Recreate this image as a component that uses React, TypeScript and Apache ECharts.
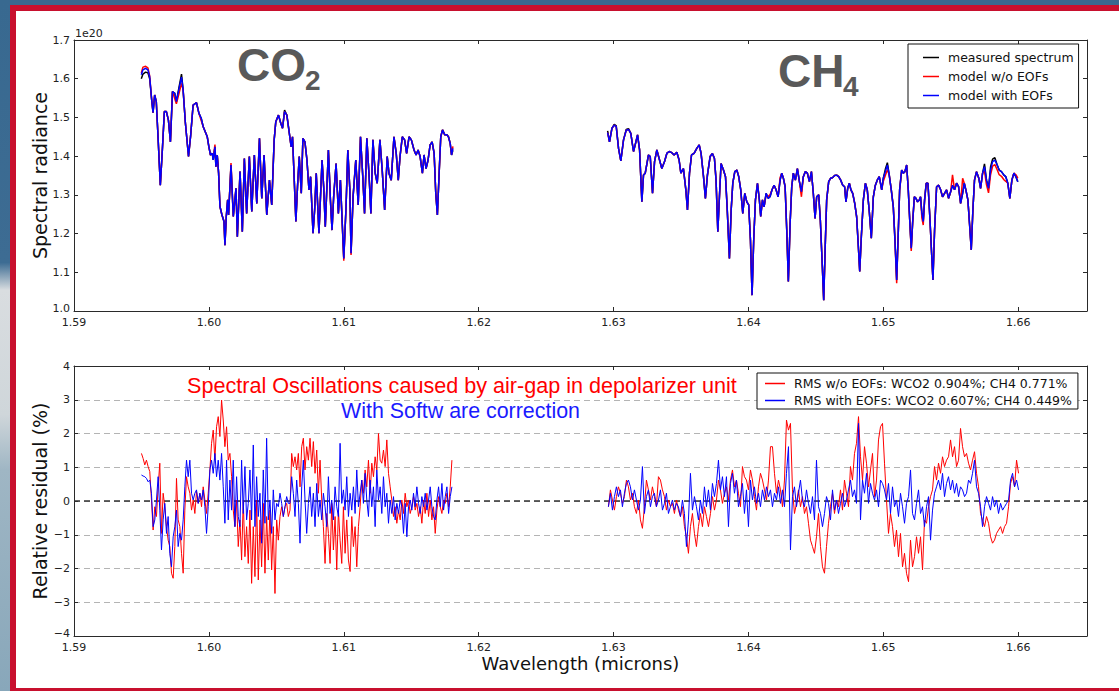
import React, { useEffect, useRef } from "react";
import * as echarts from "echarts";

// ---------- Top panel: spectral radiance (units of 1e20) ----------
const co2Wl = [
  1.59499, 1.59511, 1.59531, 1.59548, 1.59561, 1.59576, 1.59586, 1.59598, 1.5961, 1.59623,
  1.5964, 1.59655, 1.5967, 1.59685, 1.597, 1.59715, 1.5973, 1.59747, 1.59759, 1.59777,
  1.59797, 1.59809, 1.59826, 1.59849, 1.59864, 1.59883, 1.59908, 1.59926, 1.59943, 1.59958,
  1.59973, 1.59988, 1.6, 1.60012, 1.60025, 1.60032, 1.60045, 1.60052, 1.60062, 1.60072,
  1.60082, 1.60097, 1.60112, 1.60119, 1.60129, 1.60139, 1.60146, 1.60164, 1.60181, 1.60201,
  1.60211, 1.60231, 1.60248, 1.60263, 1.6028, 1.603, 1.60318, 1.60337, 1.60355, 1.60375,
  1.60392, 1.60409, 1.60429, 1.60449, 1.60466, 1.60484, 1.60496, 1.60516, 1.60533, 1.60546,
  1.60561, 1.60578, 1.60593, 1.6061, 1.6062, 1.6063, 1.60645, 1.60657, 1.6067, 1.60685,
  1.60697, 1.60712, 1.60727, 1.60742, 1.60754, 1.60772, 1.60784, 1.60796, 1.60816, 1.60839,
  1.60851, 1.60863, 1.60886, 1.60901, 1.60913, 1.60925, 1.60943, 1.6096, 1.60975, 1.61,
  1.61017, 1.6103, 1.61045, 1.61054, 1.61069, 1.61089, 1.61107, 1.61124, 1.61141, 1.61154,
  1.61171, 1.61188, 1.61201, 1.61216, 1.61233, 1.61248, 1.61268, 1.61285, 1.61303, 1.61322,
  1.61335, 1.61352, 1.61372, 1.61389, 1.61404, 1.61417, 1.61434, 1.61451, 1.61466, 1.61484,
  1.61501, 1.61521, 1.61536, 1.61551, 1.61566, 1.61583, 1.61595, 1.6161, 1.61625, 1.6164,
  1.61655, 1.6167, 1.61682, 1.61694, 1.61707, 1.61719, 1.61732, 1.61749, 1.61764, 1.61776,
  1.61789, 1.61799, 1.61809,
];
const co2WithEof = [
  1.610, 1.623, 1.627, 1.623, 1.605, 1.545, 1.512, 1.558, 1.541, 1.450,
  1.325, 1.416, 1.515, 1.515, 1.493, 1.437, 1.567, 1.562, 1.541, 1.571,
  1.604, 1.571, 1.485, 1.399, 1.450, 1.532, 1.538, 1.511, 1.498, 1.476,
  1.463, 1.450, 1.424, 1.403, 1.407, 1.390, 1.424, 1.373, 1.403, 1.356,
  1.270, 1.248, 1.231, 1.170, 1.244, 1.287, 1.248, 1.377, 1.244, 1.317,
  1.192, 1.360, 1.205, 1.394, 1.252, 1.399, 1.257, 1.403, 1.278, 1.446,
  1.291, 1.403, 1.248, 1.338, 1.274, 1.442, 1.489, 1.506, 1.485, 1.472,
  1.515, 1.506, 1.468, 1.424, 1.450, 1.364, 1.231, 1.321, 1.399, 1.304,
  1.446, 1.437, 1.390, 1.313, 1.347, 1.201, 1.261, 1.356, 1.201, 1.390,
  1.321, 1.218, 1.416, 1.287, 1.209, 1.295, 1.381, 1.252, 1.338, 1.136,
  1.270, 1.416, 1.313, 1.149, 1.295, 1.390, 1.274, 1.450, 1.347, 1.252,
  1.446, 1.347, 1.252, 1.442, 1.356, 1.330, 1.442, 1.364, 1.261, 1.399,
  1.356, 1.338, 1.450, 1.407, 1.338, 1.399, 1.450, 1.442, 1.407, 1.450,
  1.442, 1.416, 1.403, 1.416, 1.399, 1.356, 1.403, 1.368, 1.390, 1.429,
  1.437, 1.407, 1.304, 1.248, 1.356, 1.450, 1.468, 1.455, 1.455, 1.450,
  1.433, 1.403, 1.420,
];
const co2NoEof = [
  1.615, 1.630, 1.632, 1.628, 1.607, 1.545, 1.512, 1.558, 1.541, 1.450,
  1.325, 1.416, 1.515, 1.515, 1.493, 1.437, 1.567, 1.548, 1.535, 1.560,
  1.588, 1.571, 1.485, 1.399, 1.450, 1.532, 1.538, 1.511, 1.492, 1.476,
  1.463, 1.450, 1.424, 1.403, 1.407, 1.395, 1.430, 1.373, 1.403, 1.356,
  1.270, 1.248, 1.231, 1.170, 1.244, 1.287, 1.248, 1.382, 1.244, 1.317,
  1.192, 1.360, 1.205, 1.394, 1.252, 1.399, 1.257, 1.403, 1.278, 1.446,
  1.291, 1.403, 1.248, 1.338, 1.274, 1.442, 1.489, 1.506, 1.485, 1.472,
  1.515, 1.506, 1.468, 1.424, 1.450, 1.364, 1.231, 1.321, 1.399, 1.304,
  1.446, 1.437, 1.390, 1.313, 1.347, 1.201, 1.261, 1.356, 1.201, 1.390,
  1.321, 1.218, 1.416, 1.287, 1.209, 1.295, 1.381, 1.252, 1.338, 1.130,
  1.270, 1.416, 1.313, 1.145, 1.295, 1.390, 1.274, 1.450, 1.347, 1.252,
  1.446, 1.347, 1.252, 1.442, 1.356, 1.330, 1.442, 1.364, 1.261, 1.399,
  1.356, 1.338, 1.450, 1.407, 1.338, 1.399, 1.450, 1.442, 1.407, 1.450,
  1.442, 1.416, 1.403, 1.416, 1.399, 1.356, 1.403, 1.368, 1.390, 1.429,
  1.437, 1.407, 1.304, 1.248, 1.356, 1.450, 1.468, 1.455, 1.455, 1.450,
  1.433, 1.403, 1.425,
];
const co2Measured = [
  1.600, 1.612, 1.617, 1.615, 1.600, 1.545, 1.512, 1.558, 1.541, 1.450,
  1.325, 1.416, 1.515, 1.515, 1.493, 1.437, 1.567, 1.562, 1.541, 1.575,
  1.612, 1.571, 1.485, 1.399, 1.450, 1.532, 1.538, 1.511, 1.498, 1.476,
  1.463, 1.450, 1.424, 1.403, 1.407, 1.390, 1.424, 1.373, 1.403, 1.356,
  1.270, 1.248, 1.231, 1.170, 1.244, 1.287, 1.248, 1.377, 1.244, 1.317,
  1.192, 1.360, 1.205, 1.394, 1.252, 1.399, 1.257, 1.403, 1.278, 1.446,
  1.291, 1.403, 1.248, 1.338, 1.274, 1.442, 1.489, 1.506, 1.485, 1.472,
  1.519, 1.506, 1.468, 1.424, 1.450, 1.364, 1.231, 1.321, 1.399, 1.304,
  1.446, 1.437, 1.390, 1.313, 1.347, 1.201, 1.261, 1.356, 1.201, 1.390,
  1.321, 1.218, 1.416, 1.287, 1.209, 1.295, 1.381, 1.252, 1.338, 1.136,
  1.270, 1.416, 1.313, 1.149, 1.295, 1.390, 1.274, 1.450, 1.347, 1.252,
  1.446, 1.347, 1.252, 1.442, 1.356, 1.330, 1.442, 1.364, 1.261, 1.399,
  1.356, 1.338, 1.450, 1.407, 1.338, 1.399, 1.450, 1.442, 1.407, 1.450,
  1.442, 1.416, 1.403, 1.416, 1.399, 1.356, 1.403, 1.368, 1.390, 1.429,
  1.437, 1.407, 1.304, 1.248, 1.356, 1.450, 1.468, 1.455, 1.455, 1.450,
  1.433, 1.403, 1.415,
];

const ch4Wl = [
  1.62956, 1.6297, 1.62988, 1.63005, 1.6302, 1.63037, 1.63054, 1.63074, 1.63094, 1.63111,
  1.63128, 1.63148, 1.63163, 1.63178, 1.63193, 1.6321, 1.63222, 1.63235, 1.63259, 1.63272,
  1.63289, 1.63304, 1.63321, 1.63341, 1.63358, 1.63378, 1.63395, 1.63412, 1.63432, 1.63449,
  1.63469, 1.63486, 1.63499, 1.63518, 1.63536, 1.63548, 1.63563, 1.63578, 1.63597, 1.63617,
  1.63635, 1.63649, 1.63667, 1.63681, 1.63696, 1.63716, 1.63733, 1.63748, 1.6376, 1.63773,
  1.63785, 1.63797, 1.63815, 1.6383, 1.63842, 1.63859, 1.63872, 1.63884, 1.63899, 1.63914,
  1.63928, 1.63943, 1.63958, 1.63973, 1.63988, 1.64002, 1.64015, 1.64027, 1.64039, 1.64052,
  1.64067, 1.64081, 1.64091, 1.64104, 1.64116, 1.64131, 1.64146, 1.6416, 1.64175, 1.6419,
  1.64205, 1.6422, 1.64235, 1.64247, 1.64259, 1.64272, 1.64284, 1.64296, 1.64309, 1.64321,
  1.64333, 1.64348, 1.64363, 1.64378, 1.64393, 1.64407, 1.64422, 1.64437, 1.64452, 1.64467,
  1.64481, 1.64494, 1.64506, 1.64521, 1.64533, 1.64548, 1.64558, 1.6457, 1.6458, 1.64595,
  1.6461, 1.64625, 1.64639, 1.64654, 1.64669, 1.64684, 1.64699, 1.64713, 1.64723, 1.64736,
  1.64748, 1.6476, 1.64773, 1.64788, 1.64802, 1.64815, 1.64825, 1.64837, 1.64852, 1.64867,
  1.64881, 1.64896, 1.64911, 1.64926, 1.64941, 1.64955, 1.6497, 1.64988, 1.65, 1.65015,
  1.6503, 1.65044, 1.65059, 1.65074, 1.65086, 1.65099, 1.65109, 1.65121, 1.65136, 1.65148,
  1.6516, 1.65173, 1.65185, 1.65197, 1.65207, 1.65217, 1.6523, 1.65242, 1.65254, 1.65267,
  1.65276, 1.65286, 1.65296, 1.65306, 1.65318, 1.65331, 1.65346, 1.65358, 1.65368, 1.6538,
  1.65395, 1.6541, 1.65425, 1.65439, 1.65454, 1.65469, 1.65484, 1.65499, 1.65513, 1.65528,
  1.65543, 1.65558, 1.65573, 1.65588, 1.656, 1.65612, 1.65627, 1.65639, 1.65652, 1.65664,
  1.65676, 1.65691, 1.65708, 1.65721, 1.65736, 1.6575, 1.65765, 1.6578, 1.65795, 1.6581,
  1.65827, 1.65844, 1.65859, 1.65876, 1.65894, 1.65908, 1.65923, 1.65938, 1.65953, 1.65968,
  1.65983, 1.65997,
];
const ch4WithEof = [
  1.461, 1.437, 1.472, 1.480, 1.476, 1.420, 1.388, 1.442, 1.467, 1.469,
  1.459, 1.412, 1.433, 1.455, 1.416, 1.282, 1.351, 1.356, 1.403, 1.399,
  1.304, 1.386, 1.416, 1.390, 1.368, 1.386, 1.407, 1.412, 1.409, 1.403,
  1.410, 1.390, 1.356, 1.368, 1.313, 1.261, 1.356, 1.403, 1.407, 1.420,
  1.429, 1.407, 1.347, 1.291, 1.351, 1.399, 1.407, 1.394, 1.338, 1.205,
  1.295, 1.381, 1.364, 1.347, 1.269, 1.136, 1.261, 1.330, 1.360, 1.364,
  1.347, 1.313, 1.252, 1.304, 1.282, 1.274, 1.183, 1.041, 1.183, 1.287,
  1.330, 1.287, 1.244, 1.287, 1.269, 1.304, 1.291, 1.295, 1.313, 1.325,
  1.313, 1.295, 1.338, 1.356, 1.343, 1.321, 1.209, 1.076, 1.226, 1.321,
  1.356, 1.338, 1.368, 1.334, 1.308, 1.347, 1.360, 1.356, 1.334, 1.360,
  1.304, 1.239, 1.295, 1.300, 1.235, 1.114, 1.028, 1.175, 1.287, 1.334,
  1.343, 1.345, 1.350, 1.351, 1.347, 1.338, 1.325, 1.321, 1.282, 1.317,
  1.330, 1.313, 1.304, 1.278, 1.244, 1.166, 1.102, 1.192, 1.287, 1.330,
  1.313, 1.257, 1.188, 1.295, 1.325, 1.338, 1.347, 1.313, 1.343, 1.360,
  1.377, 1.351, 1.313, 1.269, 1.183, 1.080, 1.183, 1.313, 1.364, 1.356,
  1.360, 1.377, 1.313, 1.226, 1.162, 1.226, 1.295, 1.291, 1.282, 1.287,
  1.295, 1.252, 1.231, 1.287, 1.330, 1.330, 1.235, 1.149, 1.080, 1.209,
  1.321, 1.325, 1.313, 1.295, 1.304, 1.313, 1.291, 1.308, 1.325, 1.313,
  1.330, 1.321, 1.278, 1.304, 1.330, 1.313, 1.287, 1.226, 1.158, 1.261,
  1.338, 1.360, 1.343, 1.317, 1.356, 1.373, 1.338, 1.317, 1.364, 1.386,
  1.390, 1.377, 1.364, 1.360, 1.351, 1.347, 1.330, 1.291, 1.338, 1.356,
  1.347, 1.334,
];
const ch4NoEof = [
  1.461, 1.437, 1.472, 1.480, 1.476, 1.420, 1.388, 1.442, 1.467, 1.469,
  1.459, 1.412, 1.433, 1.455, 1.416, 1.282, 1.351, 1.356, 1.403, 1.399,
  1.304, 1.386, 1.416, 1.390, 1.368, 1.386, 1.407, 1.412, 1.409, 1.403,
  1.410, 1.390, 1.356, 1.368, 1.313, 1.261, 1.356, 1.403, 1.407, 1.420,
  1.429, 1.407, 1.347, 1.291, 1.351, 1.399, 1.407, 1.394, 1.338, 1.205,
  1.295, 1.381, 1.364, 1.347, 1.269, 1.136, 1.261, 1.330, 1.360, 1.364,
  1.347, 1.313, 1.252, 1.304, 1.282, 1.274, 1.183, 1.041, 1.183, 1.287,
  1.330, 1.287, 1.244, 1.287, 1.269, 1.300, 1.296, 1.300, 1.313, 1.325,
  1.313, 1.295, 1.345, 1.356, 1.343, 1.321, 1.209, 1.076, 1.226, 1.321,
  1.356, 1.338, 1.368, 1.334, 1.295, 1.347, 1.360, 1.356, 1.334, 1.360,
  1.304, 1.239, 1.295, 1.300, 1.235, 1.114, 1.028, 1.175, 1.287, 1.334,
  1.343, 1.345, 1.350, 1.351, 1.347, 1.338, 1.325, 1.321, 1.282, 1.317,
  1.330, 1.313, 1.304, 1.278, 1.244, 1.166, 1.102, 1.192, 1.287, 1.330,
  1.313, 1.257, 1.188, 1.295, 1.325, 1.338, 1.347, 1.313, 1.335, 1.350,
  1.365, 1.351, 1.313, 1.269, 1.183, 1.072, 1.183, 1.313, 1.364, 1.356,
  1.360, 1.377, 1.313, 1.226, 1.155, 1.226, 1.295, 1.291, 1.282, 1.287,
  1.295, 1.240, 1.222, 1.287, 1.330, 1.330, 1.235, 1.149, 1.080, 1.209,
  1.321, 1.325, 1.313, 1.295, 1.304, 1.313, 1.291, 1.308, 1.352, 1.313,
  1.330, 1.321, 1.278, 1.343, 1.330, 1.313, 1.287, 1.226, 1.158, 1.261,
  1.338, 1.360, 1.343, 1.317, 1.356, 1.361, 1.326, 1.305, 1.352, 1.374,
  1.378, 1.365, 1.352, 1.348, 1.339, 1.335, 1.330, 1.291, 1.338, 1.356,
  1.352, 1.343,
];
const ch4Measured = [
  1.465, 1.437, 1.472, 1.482, 1.478, 1.420, 1.388, 1.442, 1.469, 1.471,
  1.459, 1.412, 1.433, 1.455, 1.416, 1.282, 1.351, 1.356, 1.403, 1.399,
  1.304, 1.386, 1.416, 1.390, 1.368, 1.386, 1.407, 1.412, 1.409, 1.403,
  1.410, 1.390, 1.356, 1.368, 1.313, 1.261, 1.356, 1.403, 1.407, 1.420,
  1.429, 1.407, 1.347, 1.291, 1.351, 1.399, 1.407, 1.394, 1.338, 1.205,
  1.295, 1.381, 1.364, 1.347, 1.269, 1.136, 1.261, 1.330, 1.360, 1.364,
  1.347, 1.313, 1.252, 1.304, 1.282, 1.274, 1.183, 1.041, 1.183, 1.287,
  1.330, 1.287, 1.244, 1.287, 1.269, 1.304, 1.291, 1.295, 1.313, 1.325,
  1.313, 1.295, 1.338, 1.356, 1.343, 1.321, 1.209, 1.076, 1.226, 1.321,
  1.356, 1.338, 1.368, 1.334, 1.308, 1.347, 1.360, 1.356, 1.334, 1.360,
  1.304, 1.239, 1.295, 1.300, 1.235, 1.114, 1.028, 1.175, 1.287, 1.334,
  1.343, 1.345, 1.350, 1.351, 1.347, 1.338, 1.325, 1.321, 1.282, 1.317,
  1.330, 1.313, 1.304, 1.278, 1.244, 1.166, 1.102, 1.192, 1.287, 1.330,
  1.313, 1.257, 1.188, 1.295, 1.325, 1.338, 1.347, 1.313, 1.343, 1.366,
  1.383, 1.351, 1.313, 1.269, 1.190, 1.080, 1.183, 1.313, 1.364, 1.356,
  1.360, 1.377, 1.313, 1.226, 1.162, 1.226, 1.295, 1.291, 1.282, 1.287,
  1.295, 1.252, 1.231, 1.287, 1.330, 1.330, 1.235, 1.149, 1.080, 1.209,
  1.321, 1.325, 1.313, 1.295, 1.304, 1.313, 1.291, 1.308, 1.325, 1.313,
  1.330, 1.321, 1.278, 1.304, 1.330, 1.313, 1.287, 1.226, 1.158, 1.261,
  1.338, 1.360, 1.343, 1.317, 1.356, 1.380, 1.338, 1.317, 1.372, 1.392,
  1.396, 1.377, 1.364, 1.360, 1.351, 1.347, 1.330, 1.291, 1.338, 1.356,
  1.347, 1.334,
];

// ---------- Bottom panel: relative residual (%), evenly spaced spectral channels ----------
const co2ResidStart = 1.595;
const co2ResidStep = 0.00012375;
const co2ResidNoEof = [
  1.41, 1.26, 1.07, 1.21, 1.02, 0.87, 0.03, -0.86, -0.17, -0.46,
  0.42, 1.12, -0.96, 0.23, -0.17, -0.76, -1.16, -1.35, -2.14, -2.29,
  -1.35, 0.67, -0.56, -0.76, -1.55, -2.14, -0.27, 0.72, 0.42, 0.23,
  -0.27, 0.03, -0.37, 0.28, -0.07, 0.23, -0.17, 0.42, 0.03, -0.37,
  0.23, 0.92, 1.71, 2.1, 1.21, 2.2, 2.5, 1.91, 2.99, 2.4,
  1.61, 2.2, 1.21, 1.41, 0.72, -0.27, -0.76, 0.03, -1.35, -0.56,
  -1.75, 0.03, -1.65, -0.76, -1.85, -0.27, -2.44, -0.76, -2.24, 0.03,
  -2.34, -0.56, -1.95, -0.07, -2.14, -0.46, -1.75, -0.27, -2.04, -0.76,
  -2.74, -0.56, -1.16, -0.46, -0.17, -0.46, -0.17, -0.07, -0.46, -0.27,
  1.41, 1.02, 1.31, 0.92, 1.41, 0.42, 1.61, 1.86, 0.92, 1.61,
  1.21, 1.86, 1.02, 1.76, 0.82, 1.51, 0.23, 1.21, 0.03, -0.76,
  -1.85, -0.37, -0.96, -1.85, -0.07, -1.45, -0.46, -2.04, -0.27, -1.16,
  -1.85, -0.17, -1.55, -0.56, -1.75, -2.09, -0.46, -1.35, -0.76, -1.95,
  -0.76, -0.17, 0.62, 0.23, 0.92, 0.42, 1.21, 0.23, 1.12, 0.72,
  1.31, 0.92, 2.0, 1.21, 1.12, 1.51, 1.02, 1.81, 0.82, 0.42,
  0.03, -0.46, -0.17, -0.66, -0.27, -0.56, 0.03, -0.37, 0.23, -0.17,
  0.03, -0.37, -0.17, 0.13, -0.27, -0.07, -0.46, -0.17, -0.66, 0.03,
  -0.37, 0.23, -0.46, 0.03, -0.56, -0.17, -0.96, -0.27, 0.13, -0.17,
  -0.37, 0.03, -0.07, 0.23, -0.17, 0.42, 1.21,
];
const co2ResidWithEof = [
  0.77, 0.74, 0.72, 0.67, 0.57, 0.62, 0.23, -0.76, -0.56, 0.03,
  0.72, -0.27, -1.45, -0.56, -0.07, -0.96, -0.46, -1.55, -1.95, -1.06,
  -0.76, -0.27, -1.35, -0.96, -1.16, -0.56, 0.42, 1.21, 0.72, 1.21,
  0.23, 0.03, 0.23, 0.33, -0.07, 0.23, 0.03, 0.33, -0.17, -0.96,
  -0.17, 0.92, 1.21, 0.82, 1.41, 0.72, 1.21, 0.62, 1.41, 0.42,
  -0.66, 1.21, -0.56, 0.62, -0.27, 1.21, -0.76, 0.72, -0.46, -0.76,
  1.21, -0.37, 1.02, -0.56, -0.07, 0.92, -0.56, 1.66, -0.76, 0.72,
  -0.46, 0.23, -1.25, 0.92, -0.66, 1.86, -0.56, 0.03, -0.96, 0.33,
  -0.56, -0.07, -0.17, 0.23, -0.07, -0.46, -0.17, 0.13, -0.07, -0.07,
  0.72, 0.23, -0.46, 0.62, -0.07, -1.25, 0.42, 1.21, 0.03, -0.96,
  -0.07, 0.42, -0.46, 0.23, -0.76, 0.52, -0.46, 0.03, -0.56, 0.23,
  -0.17, -0.76, 0.72, -0.37, 0.03, -0.56, 0.42, -0.17, -0.46, 1.71,
  -0.07, 0.33, -0.27, 0.72, -0.46, 0.23, -0.27, 0.42, -0.37, 0.92,
  -0.17, 0.23, 0.62, -0.07, 0.82, 0.03, -0.46, 0.62, -0.17, 0.42,
  -0.76, 0.92, 0.03, 0.42, -0.37, 0.72, -0.17, 0.23, -0.66, 0.03,
  -0.37, 0.13, -0.56, -0.07, -0.37, 0.03, -0.17, -0.96, -0.07, -1.06,
  -0.17, 0.03, -0.27, 0.23, -0.17, 0.42, -0.07, -0.37, 0.13, -0.17,
  0.23, -0.27, 0.03, 0.42, -0.17, -0.46, -0.56, 0.03, 0.42, -0.17,
  0.52, -0.27, 0.13, 0.42, -0.37, 0.13, 0.42,
];
const ch4ResidStart = 1.62962;
const ch4ResidStep = 0.00014832;
const ch4ResidNoEof = [
  -0.17, 0.33, 0.03, -0.27, 0.13, 0.42, 0.23, -0.07, 0.13, 0.62,
  0.42, 0.03, 0.23, -0.17, -0.37, 0.03, -0.56, -0.81, -0.17, 0.62,
  0.33, 0.03, 0.42, 0.13, -0.17, 0.72, 0.62, 0.33, 0.13, -0.27,
  0.03, -0.17, -0.07, -0.37, 0.03, -0.27, -0.46, -0.17, -0.76, -1.06,
  -1.55, -0.76, -0.37, -0.96, -1.35, -0.76, -0.37, -0.76, -0.17, -0.46,
  -0.76, -0.37, 0.13, -0.27, 0.03, 0.62, 0.33, -0.07, 0.23, 0.42,
  0.03, 0.62, 0.92, 0.42, 0.62, 0.23, -0.17, 1.02, 0.72, 0.62,
  0.33, 0.92, 0.62, 0.13, -0.27, 0.42, 0.82, 0.62, 0.33, 0.03,
  0.62, 1.61, 1.61, 0.82, 0.23, 0.62, 0.33, -0.17, 0.62, 2.4,
  2.1, 2.3, 0.33, -0.37, -0.07, 0.33, -0.17, 0.13, -0.37, -0.17,
  -0.66, -1.16, -1.35, -1.55, -1.06, -0.37, -1.35, -1.95, -2.14, -1.35,
  -0.66, -0.17, 0.23, -0.37, 0.03, -0.17, 0.33, -0.27, 0.62, 0.23,
  -0.17, 1.02, 0.62, 1.41, 1.71, 2.5, 1.31, 0.62, 1.61, 1.12,
  0.42, 0.92, 1.41, 0.13, 0.62, 1.81, 2.2, 2.3, 1.12, 0.03,
  -0.96, -0.37, -0.76, -1.35, -0.86, -1.65, -0.96, -1.95, -1.55, -2.14,
  -2.39, -1.16, -1.95, -1.65, -1.06, -1.55, -1.06, -2.04, -0.56, -0.66,
  -0.17, 0.13, 0.33, 1.02, 0.62, 1.12, 0.82, 1.31, 1.02, 1.21,
  1.31, 1.81, 1.31, 1.61, 1.02, 1.21, 2.15, 1.61, 1.31, 1.41,
  1.12, 0.92, 1.21, 1.46, 0.82, 0.42, -0.37, -0.56, -0.76, -0.46,
  -0.66, -1.06, -1.25, -1.16, -0.96, -0.86, -0.76, -0.96, -0.76, -0.66,
  -0.17, 0.52, 0.72, 0.42, 1.21, 0.82,
];
const ch4ResidWithEof = [
  -0.17, 0.23, -0.27, 0.13, 0.42, 0.13, 0.33, -0.17, 0.23, 0.52,
  0.62, 0.42, 0.03, 0.33, 0.03, -0.27, 0.03, 1.02, -0.37, 0.13,
  0.33, -0.17, 0.13, 0.23, -0.17, 0.03, 0.33, -0.27, -0.07, 0.23,
  -0.37, -0.17, 0.03, -0.27, -0.07, -0.17, -0.46, 0.03, -0.37, -1.35,
  -0.56, 0.82, -0.27, 0.13, -0.17, -0.56, 0.03, -0.37, 0.42, -0.17,
  0.33, -0.27, 0.52, 0.13, 0.52, 1.21, 0.33, 0.72, 0.13, 0.72,
  -0.76, 0.52, 0.82, 0.23, 0.62, -0.17, 0.13, 0.52, -0.37, 0.33,
  -0.76, 0.62, 0.03, 0.42, -0.07, 0.23, -0.17, 0.33, 0.03, 0.42,
  0.13, 0.33, -0.17, 0.23, 0.03, 0.42, -0.07, 0.33, -0.17, 0.82,
  1.61, -1.45, 0.13, 0.42, -0.17, 0.23, 0.62, 0.03, -0.17, 0.33,
  -0.07, -0.37, 0.13, -0.56, 1.21, -0.17, -0.37, -0.76, -0.37, 0.13,
  -0.07, -0.56, 0.33, -0.27, 0.03, -0.37, -0.07, 0.23, -0.17, 0.03,
  0.33, 0.62, 0.13, 0.33, -0.07, 2.3, -0.56, 0.62, 0.23, 0.82,
  -0.07, 0.52, 0.23, 0.03, 0.33, -0.17, 0.62, 0.52, 0.33, 0.03,
  0.52, -0.37, 0.42, -0.17, 0.03, -0.46, 0.23, -0.17, -0.66, -0.07,
  0.13, 0.92, -0.37, -0.56, -0.07, 0.33, -0.37, -0.17, -0.76, -0.17,
  0.13, -1.16, -0.27, 0.23, 0.42, 0.62, 0.33, 0.82, 0.13, 0.52,
  0.72, 0.33, 0.62, 0.23, 0.52, 0.13, 0.42, 0.33, 0.13, 0.23,
  0.62, 0.52, 0.82, 1.21, 0.42, 0.23, -0.17, -0.76, -0.17, 0.13,
  -0.07, -0.27, 0.13, -0.17, 0.03, -0.37, -0.07, -0.27, -0.17, -0.07,
  0.03, 0.62, 0.82, 0.42, 0.62, 0.33,
];

// ---------- Axis settings ----------
const xMin = 1.59;
const xMax = 1.6651;
const xInterval = 0.01;
const topYMin = 1.0;
const topYMax = 1.7;
const topYInterval = 0.1;
const botYMin = -4;
const botYMax = 4;
const botYInterval = 1;

const legendTop = ["measured spectrum", "model w/o EOFs", "model with EOFs"];
const legendBottom = [
  "RMS w/o EOFs: WCO2 0.904%; CH4 0.771%",
  "RMS with EOFs: WCO2 0.607%; CH4 0.449%",
];

const zip = (xs: number[], ys: number[]) => xs.map((x, i) => [x, ys[i]]);
const onGrid = (start: number, step: number, ys: number[]) =>
  ys.map((y, i) => [start + i * step, y]);

const FONT = '"DejaVu Sans", "Noto Sans", sans-serif';
const AX = "#2a2a2a";

function xAxisDef(gridIndex: number, position: "top" | "bottom", labels: boolean, name?: string) {
  return {
    type: "value",
    gridIndex,
    position,
    min: xMin,
    max: xMax,
    interval: xInterval,
    name,
    nameLocation: "middle",
    nameGap: 18,
    nameMoveOverlap: false,
    nameTextStyle: { fontSize: 18, fontFamily: FONT, color: "#111" },
    axisLine: { show: true, onZero: false, lineStyle: { color: AX, width: 1 } },
    axisTick: { show: true, inside: true, length: 4, lineStyle: { color: AX } },
    axisLabel: {
      show: labels,
      margin: 6,
      fontSize: 11,
      fontFamily: FONT,
      color: "#222",
      formatter: (v: number) => (v > 1.6605 ? "" : v.toFixed(2)),
    },
    splitLine: { show: false },
  };
}

function yAxisDef(
  gridIndex: number,
  position: "left" | "right",
  min: number,
  max: number,
  interval: number,
  labels: boolean,
  fmt: (v: number) => string,
  name?: string,
  split?: boolean
) {
  return {
    type: "value",
    gridIndex,
    position,
    min,
    max,
    interval,
    name,
    nameLocation: "middle",
    nameGap: 25,
    nameMoveOverlap: false,
    nameTextStyle: { fontSize: 19, fontFamily: FONT, color: "#111" },
    axisLine: { show: true, onZero: false, lineStyle: { color: AX, width: 1 } },
    axisTick: { show: true, inside: true, length: 4, lineStyle: { color: AX } },
    axisLabel: {
      show: labels,
      margin: 4,
      fontSize: 11,
      fontFamily: FONT,
      color: "#222",
      formatter: (v: number) => (Math.abs(v - min) < 1e-9 ? "{lo|" + fmt(v) + "}" : fmt(v)),
      rich: { lo: { fontSize: 11, fontFamily: FONT, color: "#222", padding: [0, 0, 6, 0] } },
    },
    splitLine: split
      ? { show: true, lineStyle: { type: [6, 4], color: "#b4b4b4", width: 1 } }
      : { show: false },
  };
}

function lineSeries(name: string, xi: number, yi: number, data: number[][], color: string, width: number) {
  return {
    name,
    type: "line",
    xAxisIndex: xi,
    yAxisIndex: yi,
    data,
    symbol: "none",
    showSymbol: false,
    silent: true,
    lineStyle: { color, width },
    itemStyle: { color },
    emphasis: { disabled: true },
  };
}

export default function App() {
  const ref = useRef<HTMLDivElement>(null);

  useEffect(() => {
    if (!ref.current) return;
    const chart = echarts.init(ref.current, undefined, { renderer: "svg" });

    const legendText = { fontSize: 12.5, fontFamily: FONT, color: "#111", padding: [0, 0, 0, 4] };
    const option: any = {
      animation: false,
      backgroundColor: "transparent",
      grid: [
        { left: 74, top: 40, width: 1013, height: 271 },
        { left: 74, top: 366, width: 1013, height: 270 },
      ],
      xAxis: [
        xAxisDef(0, "bottom", true),
        xAxisDef(0, "top", false),
        xAxisDef(1, "bottom", true, "Wavelength (microns)"),
        xAxisDef(1, "top", false),
      ],
      yAxis: [
        yAxisDef(0, "left", topYMin, topYMax, topYInterval, true, (v) => v.toFixed(1), "Spectral radiance"),
        yAxisDef(0, "right", topYMin, topYMax, topYInterval, false, (v) => v.toFixed(1)),
        yAxisDef(
          1,
          "left",
          botYMin,
          botYMax,
          botYInterval,
          true,
          (v) => (v < 0 ? "\u2212" + Math.abs(v) : String(v)),
          "Relative residual (%)",
          true
        ),
        yAxisDef(1, "right", botYMin, botYMax, botYInterval, false, (v) => String(v)),
      ],
      legend: [
        {
          data: legendTop,
          orient: "vertical",
          left: 908,
          top: 44,
          padding: [7, 5, 6, 15],
          itemGap: 6,
          itemWidth: 16,
          itemHeight: 1.5,
          icon: "rect",
          borderColor: "#111",
          borderWidth: 1,
          borderRadius: 0,
          backgroundColor: "#fff",
          selectedMode: false,
          itemStyle: { borderWidth: 0 },
          textStyle: legendText,
        },
        {
          data: legendBottom,
          orient: "vertical",
          left: 757,
          top: 373,
          padding: [4, 6, 2, 8],
          itemGap: 4,
          itemWidth: 20,
          itemHeight: 1.5,
          icon: "rect",
          borderColor: "#111",
          borderWidth: 1,
          borderRadius: 0,
          backgroundColor: "#fff",
          selectedMode: false,
          itemStyle: { borderWidth: 0 },
          textStyle: legendText,
        },
      ],
      graphic: [
        {
          type: "text",
          x: 75,
          y: 33,
          style: { text: "1e20", font: '11px "DejaVu Sans"', fill: "#222", textVerticalAlign: "middle", verticalAlign: "middle" },
        },
        {
          type: "text",
          x: 237,
          y: 65,
          style: { text: "CO", font: 'bold 46px "Liberation Sans"', fill: "#595959", textVerticalAlign: "middle", verticalAlign: "middle" },
        },
        {
          type: "text",
          x: 305,
          y: 80,
          style: { text: "2", font: 'bold 28px "Liberation Sans"', fill: "#595959", textVerticalAlign: "middle", verticalAlign: "middle" },
        },
        {
          type: "text",
          x: 778,
          y: 71,
          style: { text: "CH", font: 'bold 46px "Liberation Sans"', fill: "#595959", textVerticalAlign: "middle", verticalAlign: "middle" },
        },
        {
          type: "text",
          x: 843,
          y: 86,
          style: { text: "4", font: 'bold 28px "Liberation Sans"', fill: "#595959", textVerticalAlign: "middle", verticalAlign: "middle" },
        },
        {
          type: "text",
          x: 187,
          y: 385,
          style: {
            text: "Spectral Oscillations caused by air-gap in depolarizer unit",
            font: '21.6px "Liberation Sans"',
            fill: "#ff0000",
            textVerticalAlign: "middle",
            verticalAlign: "middle",
          },
        },
        {
          type: "text",
          x: 341,
          y: 411,
          style: {
            text: "With Softw are correction",
            font: '21.4px "Liberation Sans"',
            fill: "#1a1aff",
            textVerticalAlign: "middle",
            verticalAlign: "middle",
          },
        },
      ],
      series: [
        lineSeries(legendTop[0], 0, 0, zip(co2Wl, co2Measured), "#000000", 1.5),
        lineSeries(legendTop[0], 0, 0, zip(ch4Wl, ch4Measured), "#000000", 1.5),
        lineSeries(legendTop[1], 0, 0, zip(co2Wl, co2NoEof), "#ff0000", 1.5),
        lineSeries(legendTop[1], 0, 0, zip(ch4Wl, ch4NoEof), "#ff0000", 1.5),
        lineSeries(legendTop[2], 0, 0, zip(co2Wl, co2WithEof), "#0000ff", 1.5),
        lineSeries(legendTop[2], 0, 0, zip(ch4Wl, ch4WithEof), "#0000ff", 1.5),
        {
          name: "zero",
          type: "line",
          xAxisIndex: 2,
          yAxisIndex: 2,
          data: [
            [xMin, 0],
            [xMax, 0],
          ],
          symbol: "none",
          silent: true,
          lineStyle: { color: "#333", width: 1.4, type: [6, 4] },
          itemStyle: { color: "#333" },
        },
        lineSeries(legendBottom[0], 2, 2, onGrid(co2ResidStart, co2ResidStep, co2ResidNoEof), "#ff0000", 1),
        lineSeries(legendBottom[0], 2, 2, onGrid(ch4ResidStart, ch4ResidStep, ch4ResidNoEof), "#ff0000", 1),
        lineSeries(legendBottom[1], 2, 2, onGrid(co2ResidStart, co2ResidStep, co2ResidWithEof), "#0000ff", 1),
        lineSeries(legendBottom[1], 2, 2, onGrid(ch4ResidStart, ch4ResidStep, ch4ResidWithEof), "#0000ff", 1),
      ],
    };

    chart.setOption(option);
    return () => chart.dispose();
  }, []);

  const crimson = "#c8102e";
  return (
    <div
      style={{
        position: "fixed",
        left: 0,
        top: 0,
        width: 1119,
        height: 691,
        background: "#ffffff",
        overflow: "hidden",
      }}
    >
      <div style={{ position: "absolute", left: 0, top: 0, width: 1119, height: 5, background: "#386990" }} />
      <div
        style={{
          position: "absolute",
          left: 0,
          top: 0,
          width: 10,
          height: 691,
          background:
            "linear-gradient(to bottom, #386990 0%, #3d6c93 38%, #d9dde0 42%, #cfd6da 60%, #9fb6c4 68%, #88a7ba 100%)",
        }}
      />
      <div style={{ position: "absolute", left: 10, top: 5, width: 1109, height: 6, background: crimson }} />
      <div style={{ position: "absolute", left: 10, top: 5, width: 6, height: 686, background: crimson }} />
      <div style={{ position: "absolute", left: 10, top: 688, width: 1109, height: 3, background: crimson }} />
      <div ref={ref} style={{ position: "absolute", left: 0, top: 0, width: 1119, height: 691 }} />
    </div>
  );
}
